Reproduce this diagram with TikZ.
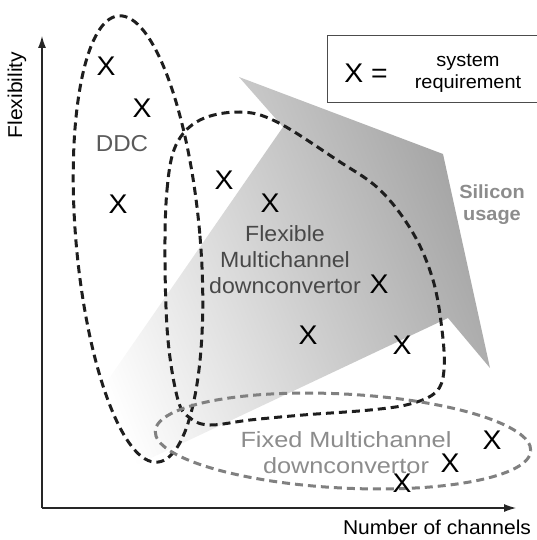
\documentclass[tikz,border=0pt]{standalone}
\usepackage{fontspec}
\setmainfont{Liberation Sans}[FakeStretch=1.05]
\newfontfamily\widefont{Liberation Sans}[FakeStretch=1.15]
\usetikzlibrary{arrows.meta}
\definecolor{ringblack}{HTML}{1E1E1E}
\definecolor{ringgray}{HTML}{808080}
\definecolor{ddcgray}{HTML}{5A5A5A}
\definecolor{flexgray}{HTML}{484848}
\definecolor{fixgray}{HTML}{8C8C8C}
\begin{document}
\begin{tikzpicture}[x=1pt,y=1pt,
		req/.style={font=\fontsize{27}{27}\selectfont,inner sep=0pt},
		ring/.style={line width=3pt,dash pattern=on 8pt off 5pt},
		axislabel/.style={font=\fontsize{20}{22}\selectfont,inner sep=0pt},
		axisline/.style={line width=1.1pt,black!85,-{Latex[length=12pt,width=8pt]}}]
	\useasboundingbox (0,0) rectangle (537,-540);
	\shade[bottom color=white,top color=black!36,shading angle=-68] (72,-432)--(283,-127)--(239,-77)--(443,-154)--(490,-368)--(448,-318)--(113,-476)--(113,-440)--cycle;
	\draw[ring,ringblack,rotate around={5:(138,-239)}] (138,-239) ellipse[x radius=62,y radius=224];
	\draw[ring,ringblack] plot[smooth cycle,tension=0.6] coordinates {(165,-260) (167,-190) (176,-145) (200,-120) (240,-112) (277,-122) (337,-160) (380,-190) (413,-233) (433,-280) (442,-330) (444,-370) (436,-392) (410,-404) (370,-410) (303,-415) (250,-420) (210,-425) (190,-418) (178,-400) (168,-340)};
	\draw[ring,ringgray,rotate around={-3:(343,-441)}] (343,-441) ellipse[x radius=188,y radius=47];
	\coordinate (origin) at (42,-508);
	\coordinate (ytip) at (42,-36);
	\coordinate (xtip) at (516,-508);
	\draw[axisline] (origin)--(ytip);
	\draw[axisline] (origin)--(xtip);
	\node[axislabel,rotate=90] (flexibility) at (17,-95) {Flexibility};
	\node[axislabel] (channels) at (437,-527) {Number of channels};
	\draw[line width=1pt,black!70] (538,-36) -| (327,-103) -- (538,-103);
	\node[req] (xsym) at (366,-73) {X =};
	\node[font=\fontsize{19}{22}\selectfont,align=center,inner sep=0pt] (sysreq) at (468,-73) {system\\requirement};
	\node[font=\fontsize{23}{26}\selectfont,text=ddcgray,inner sep=0pt] (ddc) at (122,-144) {DDC};
	\node[font=\fontsize{22}{26}\selectfont,text=flexgray,align=center,inner sep=0pt] (flexible) at (285,-260) {Flexible\\Multichannel\\downconvertor};
	\node[font=\widefont\fontsize{22}{26}\selectfont,text=fixgray,align=center,inner sep=0pt] (fixed) at (346,-453) {Fixed Multichannel\\downconvertor};
	\node[font=\bfseries\fontsize{19}{22}\selectfont,text=fixgray,align=center,inner sep=0pt] (silicon) at (492,-205) {Silicon\\usage};
	\node[req] (ddca) at (106,-66) {X};
	\node[req] (ddcb) at (142,-108) {X};
	\node[req] (ddcc) at (118,-204) {X};
	\node[req] (flexa) at (224,-180) {X};
	\node[req] (flexb) at (270,-203) {X};
	\node[req] (flexc) at (379,-284) {X};
	\node[req] (flexd) at (308,-335) {X};
	\node[req] (flexe) at (402,-345) {X};
	\node[req] (fixa) at (492,-440) {X};
	\node[req] (fixb) at (450,-463) {X};
	\node[req] (fixc) at (402,-483) {X};
\end{tikzpicture}
\end{document}
